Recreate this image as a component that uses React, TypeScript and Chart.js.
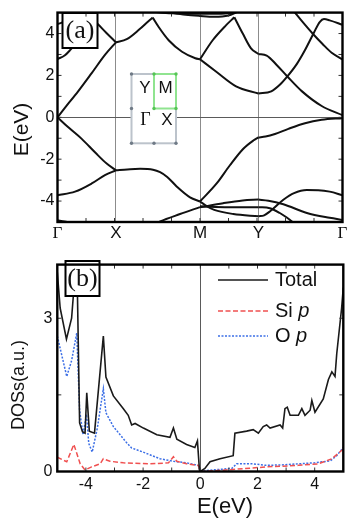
import React, { useEffect, useRef } from 'react';
import { Chart, registerables } from 'chart.js';

Chart.register(...registerables);

const SANS = '"Liberation Sans", Arial, Helvetica, sans-serif';
const SERIF = '"Liberation Serif", "Times New Roman", Times, serif';

// ---------------- (a) band structure ----------------
const kPoints = [0, 0.41, 1.0, 1.41, 2.0];
const kLabels = ['Γ', 'X', 'M', 'Y', 'Γ'];
const bandEnergyTicks = [-4, -2, 0, 2, 4];

// segments [k, E(eV)]
const gxC1 = [[0, 0], [0.053, 0.46], [0.146, 1.25], [0.24, 2.11], [0.333, 2.98], [0.41, 3.58]];
const gxV1 = [[0, 0], [0.076, -0.48], [0.17, -1.03], [0.263, -1.67], [0.345, -2.21], [0.41, -2.53]];
const gxV2 = [[0, -3.72], [0.123, -3.55], [0.24, -3.16], [0.333, -2.76], [0.41, -2.53]];
const gxC2 = [[0, 2.78], [0.05, 2.95], [0.09, 3.22], [0.15, 3.7], [0.2, 4.2], [0.25, 4.7], [0.285, 5.05]];
const gxC3 = [[0, 4.45], [0.03, 4.52], [0.1, 4.75], [0.17, 4.88], [0.22, 4.8], [0.275, 4.5], [0.34, 4.05], [0.41, 3.58]];
const gxV3 = [[0, -4.92], [0.05, -4.97], [0.12, -5.1]];

const xmC1a = [[0.41, 3.58], [0.486, 3.73], [0.575, 4.2], [0.64, 4.6], [0.668, 4.76]];
const xmC1b = [[0.668, 4.76], [0.71, 4.31], [0.78, 3.68], [0.874, 3.13], [0.967, 2.82], [1.0, 2.77]];
const xmV1 = [[0.41, -2.53], [0.49, -2.49], [0.58, -2.46], [0.67, -2.5], [0.72, -2.62], [0.77, -2.85], [0.836, -3.3], [0.93, -3.82], [1.0, -4.02]];
const xmV2 = [[0.68, -5.1], [0.72, -4.97], [0.86, -4.62], [1.0, -4.29]];
const topC1 = [[0.66, 5.05], [0.8, 4.97], [1.0, 4.95], [1.15, 4.95], [1.25, 5.02]];
const topC2 = [[0.76, 5.05], [0.9, 4.9], [1.0, 4.84], [1.1, 4.8], [1.2, 4.86], [1.26, 5.02]];

const myC1a = [[1.0, 2.77], [1.089, 3.68], [1.182, 4.39], [1.241, 4.78]];
const myC1b = [[1.241, 4.78], [1.3, 4.0], [1.358, 3.29], [1.41, 3.02]];
const myC2 = [[1.0, 2.77], [1.112, 2.19], [1.253, 1.48], [1.41, 1.14]];
const myV1 = [[1.0, -4.02], [1.117, -3.16], [1.21, -2.29], [1.304, -1.5], [1.374, -1.11], [1.41, -0.96]];
const myV2 = [[1.0, -4.02], [1.05, -4.25], [1.1, -4.42], [1.234, -4.62], [1.41, -4.73]];
const myV3 = [[1.0, -4.3], [1.163, -4.1], [1.3, -3.97], [1.41, -3.93]];
const myV4 = [[1.0, -4.25], [1.2, -4.29], [1.41, -4.29]];

const ygC1 = [[1.41, 3.02], [1.468, 2.95], [1.538, 2.5], [1.613, 1.95], [1.714, 1.25], [1.854, 0.54], [2.0, 0.1]];
const ygC2 = [[1.41, 1.14], [1.5, 1.24], [1.56, 1.55], [1.613, 1.95], [1.68, 2.55], [1.737, 3.21], [1.8, 4.05], [1.84, 4.55], [1.87, 4.69], [1.91, 4.63], [2.0, 4.42]];
const ygC3 = [[1.66, 5.05], [1.714, 4.6], [1.79, 4.0], [1.86, 3.5], [1.924, 3.08], [2.0, 2.77]];
const ygV1 = [[1.41, -0.96], [1.46, -0.92], [1.526, -0.8], [1.62, -0.55], [1.737, -0.28], [1.854, -0.12], [2.0, -0.04]];
const ygV2 = [[1.41, -4.73], [1.45, -4.68], [1.49, -4.5], [1.585, -3.94], [1.66, -3.62], [1.75, -3.47], [1.83, -3.48], [1.91, -3.55], [2.0, -3.72]];
const ygV3 = [[1.41, -3.93], [1.48, -3.98], [1.585, -4.15], [1.75, -4.57], [1.91, -4.8], [2.0, -4.9]];
const ygV4 = [[1.41, -4.29], [1.49, -4.34], [1.56, -4.57], [1.63, -4.89], [1.66, -5.05]];

const bandSegments = [
  gxC1, gxV1, gxV2, gxC2, gxC3, gxV3,
  xmC1a, xmC1b, xmV1, xmV2, topC1, topC2,
  myC1a, myC1b, myC2, myV1, myV2, myV3, myV4,
  ygC1, ygC2, ygC3, ygV1, ygV2, ygV3, ygV4,
];

// ---------------- (b) DOS ----------------
const dosEnergyTicks = [-4, -2, 0, 2, 4];
const dosValueTicks = [0, 3];
const dosMinorTicks = [0, 1.5, 3];
const dosMax = 4.05;

const totalE = [-5, -4.9, -4.68, -4.5, -4.32, -4.22, -4.12, -4.03, -3.97, -3.88, -3.7, -3.39, -3.3, -3.04, -2.69, -2.52, -2.4, -2.28, -1.99, -1.52, -1.06, -0.94, -0.82, -0.48, -0.19, -0.1, -0.03, 0, 0.16, 0.34, 0.69, 1.15, 1.21, 1.62, 1.85, 2.03, 2.2, 2.32, 2.44, 2.79, 2.88, 2.96, 3.04, 3.14, 3.43, 3.55, 3.66, 3.84, 3.9, 4.01, 4.3, 4.48, 4.6, 4.71, 4.77, 4.94, 5];
const totalDOS = [3.9, 3.2, 2.59, 3.0, 4.3, 0.95, 0.78, 0.75, 1.54, 0.79, 0.75, 2.65, 1.85, 1.48, 1.23, 1.1, 0.91, 0.94, 0.85, 0.72, 0.67, 0.85, 0.63, 0.53, 0.47, 0.6, 0.03, 0, 0.06, 0.19, 0.25, 0.31, 0.75, 0.79, 0.82, 0.75, 0.88, 0.91, 0.85, 0.91, 0.85, 1.23, 1.26, 1.1, 1.1, 1.23, 1.1, 1.2, 1.39, 1.16, 1.42, 1.8, 1.95, 1.86, 2.3, 3.19, 3.6];

const siE = [-5, -4.67, -4.42, -4.2, -4.03, -3.8, -3.5, -3.39, -3.16, -2.69, -1.75, -1.11, -0.94, -0.82, -0.48, -0.07, 0, 0.1, 1.15, 2.32, 3.43, 4.13, 4.6, 5];
const siDOS = [0.28, 0.19, 0.53, 0.15, 0.03, 0.09, 0.15, 0.25, 0.2, 0.17, 0.15, 0.17, 0.29, 0.2, 0.15, 0.12, 0, 0, 0.04, 0.09, 0.12, 0.15, 0.25, 0.44];

const oE = [-5, -4.67, -4.5, -4.32, -4.22, -4.1, -3.98, -3.9, -3.78, -3.6, -3.39, -3.3, -3.04, -2.57, -2.4, -2.0, -1.41, -0.94, -0.48, -0.07, 0, 0.2, 1.1, 1.27, 1.85, 2.3, 2.88, 3.43, 4.0, 4.55, 4.77, 5];
const oDOS = [2.65, 1.86, 2.17, 2.71, 1.2, 0.72, 1.12, 0.55, 0.38, 0.85, 1.62, 1.15, 0.88, 0.56, 0.46, 0.38, 0.25, 0.2, 0.17, 0.12, 0, 0.02, 0.06, 0.15, 0.15, 0.12, 0.13, 0.15, 0.17, 0.21, 0.31, 0.47];

const legendNames = ['Total', 'Si', 'O'];
const legendOrbitals = ['', 'p', 'p'];

function line(ctx: CanvasRenderingContext2D, x1: number, y1: number, x2: number, y2: number) {
  ctx.beginPath();
  ctx.moveTo(x1, y1);
  ctx.lineTo(x2, y2);
  ctx.stroke();
}

const bandDecor = {
  id: 'bandDecor',
  afterDraw(chart: any) {
    const { ctx, chartArea: a, scales } = chart;
    const xs = scales.x;
    const ys = scales.y;
    ctx.save();

    // Brillouin-zone inset
    const L = 131.5, R = 176, T = 74, B = 143.3, MX = 154, MY = 108.5;
    ctx.fillStyle = '#ffffff';
    ctx.fillRect(L, T, R - L, B - T);
    ctx.lineWidth = 2;
    ctx.strokeStyle = '#bcc3cb';
    ctx.strokeRect(L, T, R - L, B - T);
    ctx.strokeStyle = '#90e490';
    ctx.strokeRect(MX, T, R - MX, MY - T);
    const dot = (x: number, y: number, c: string) => {
      ctx.fillStyle = c;
      ctx.beginPath();
      ctx.arc(x, y, 1.7, 0, Math.PI * 2);
      ctx.fill();
    };
    [[L, T], [L, MY], [L, B], [MX, B], [R, B]].forEach(([x, y]) => dot(x, y, '#6f7a86'));
    [[MX, T], [R, T], [MX, MY], [R, MY]].forEach(([x, y]) => dot(x, y, '#55c455'));
    ctx.fillStyle = '#111';
    ctx.textAlign = 'center';
    ctx.textBaseline = 'middle';
    ctx.font = `17px ${SANS}`;
    ctx.fillText('Y', 145, 88.5);
    ctx.fillText('M', 165.5, 88.5);
    ctx.fillText('X', 167, 120.5);
    ctx.font = `18px ${SERIF}`;
    ctx.fillText('Γ', 145.5, 120.5);

    // (a) label box
    ctx.fillStyle = '#ffffff';
    ctx.fillRect(62.5, 13, 35, 35);
    ctx.strokeStyle = '#000';
    ctx.lineWidth = 2;
    ctx.strokeRect(62.5, 13, 35, 35);
    ctx.fillStyle = '#111';
    ctx.font = `26px ${SERIF}`;
    ctx.fillText('(a)', 80, 31);

    // inward minor ticks
    ctx.strokeStyle = '#333';
    ctx.lineWidth = 1;
    for (let i = 1; i < 10; i++) {
      const px = xs.getPixelForValue(i * 0.2);
      line(ctx, px, a.bottom, px, a.bottom - 4);
      line(ctx, px, a.top, px, a.top + 4);
    }
    for (let e = -4; e <= 4; e++) {
      const py = ys.getPixelForValue(e);
      line(ctx, a.left, py, a.left + 4, py);
      line(ctx, a.right, py, a.right - 4, py);
    }

    // frame
    ctx.strokeStyle = '#000';
    ctx.lineWidth = 2.4;
    ctx.strokeRect(a.left, a.top, a.right - a.left, a.bottom - a.top);

    // axis title
    ctx.translate(22.5, 129.5);
    ctx.rotate(-Math.PI / 2);
    ctx.fillStyle = '#111';
    ctx.font = `21px ${SANS}`;
    ctx.textAlign = 'center';
    ctx.textBaseline = 'middle';
    ctx.fillText('E(eV)', 0, 0);
    ctx.restore();
  },
};

const dosDecor = {
  id: 'dosDecor',
  afterDraw(chart: any) {
    const { ctx, chartArea: a, scales } = chart;
    const xs = scales.x;
    const ys = scales.y;
    ctx.save();

    // inward ticks
    ctx.strokeStyle = '#333';
    ctx.lineWidth = 1;
    for (let e = -4; e <= 4; e++) {
      const px = xs.getPixelForValue(e);
      line(ctx, px, a.bottom, px, a.bottom - 4);
      line(ctx, px, a.top, px, a.top + 4);
    }
    dosMinorTicks.forEach((v) => {
      const py = ys.getPixelForValue(v);
      line(ctx, a.left, py, a.left + 4, py);
      line(ctx, a.right, py, a.right - 4, py);
    });

    // (b) label box
    ctx.fillStyle = '#ffffff';
    ctx.fillRect(65.5, 11, 34, 35);
    ctx.strokeStyle = '#000';
    ctx.lineWidth = 2;
    ctx.strokeRect(65.5, 11, 34, 35);
    ctx.fillStyle = '#111';
    ctx.textAlign = 'center';
    ctx.textBaseline = 'middle';
    ctx.font = `26px ${SERIF}`;
    ctx.fillText('(b)', 82.5, 29);

    // legend
    const rows = [30, 61, 86];
    chart.data.datasets.forEach((ds: any, i: number) => {
      const y = rows[i];
      ctx.strokeStyle = ds.borderColor;
      ctx.lineWidth = ds.borderWidth;
      ctx.setLineDash(ds.borderDash || []);
      line(ctx, 218, y, 268, y);
      ctx.setLineDash([]);
      ctx.fillStyle = '#111';
      ctx.textAlign = 'left';
      ctx.textBaseline = 'middle';
      ctx.font = `20px ${SANS}`;
      const name = legendNames[i];
      ctx.fillText(name, 275, y);
      if (legendOrbitals[i]) {
        const w = ctx.measureText(name + ' ').width;
        ctx.font = `italic 20px ${SANS}`;
        ctx.fillText(legendOrbitals[i], 275 + w, y);
      }
    });

    // frame
    ctx.strokeStyle = '#000';
    ctx.lineWidth = 2.4;
    ctx.strokeRect(a.left, a.top, a.right - a.left, a.bottom - a.top);

    // axis titles
    ctx.fillStyle = '#111';
    ctx.textAlign = 'center';
    ctx.textBaseline = 'middle';
    ctx.font = `22px ${SANS}`;
    ctx.fillText('E(eV)', 225, 257);
    ctx.translate(19.5, 135);
    ctx.rotate(-Math.PI / 2);
    ctx.font = `18px ${SANS}`;
    ctx.fillText('DOSs(a.u.)', 0, 0);
    ctx.restore();
  },
};

function BandChart() {
  const ref = useRef<HTMLCanvasElement>(null);
  useEffect(() => {
    const chart = new Chart(ref.current as HTMLCanvasElement, {
      type: 'scatter',
      data: {
        datasets: bandSegments.map((seg) => ({
          data: seg.map(([k, e]) => ({ x: k, y: e })),
          showLine: true,
          borderColor: '#111',
          borderWidth: 2,
          pointRadius: 0,
          pointHitRadius: 0,
          cubicInterpolationMode: 'monotone',
          fill: false,
        })),
      } as any,
      options: {
        animation: false,
        responsive: false,
        maintainAspectRatio: false,
        events: [],
        layout: { padding: { top: 10.5, right: 11.5, left: 0, bottom: 0 } },
        plugins: { legend: { display: false }, tooltip: { enabled: false } },
        scales: {
          x: {
            type: 'linear',
            min: 0,
            max: 2,
            afterBuildTicks: (s: any) => {
              s.ticks = kPoints.map((v) => ({ value: v }));
            },
            afterFit: (s: any) => {
              s.height = 28;
            },
            border: { display: false },
            grid: {
              drawTicks: false,
              lineWidth: 1,
              color: (c: any) => (c.index > 0 && c.index < kPoints.length - 1 ? '#8c8c8c' : 'rgba(0,0,0,0)'),
            },
            ticks: {
              autoSkip: false,
              maxRotation: 0,
              padding: 1,
              color: '#111',
              callback: (_v: any, i: number) => kLabels[i],
              font: (c: any) => ({ family: kLabels[c.index] === 'Γ' ? SERIF : SANS, size: 17 }),
            },
          },
          y: {
            type: 'linear',
            min: -5,
            max: 5,
            afterBuildTicks: (s: any) => {
              s.ticks = bandEnergyTicks.map((v) => ({ value: v }));
            },
            afterFit: (s: any) => {
              s.width = 57.5;
            },
            border: { display: false },
            grid: {
              drawTicks: false,
              lineWidth: 1,
              color: (c: any) => (c.tick && c.tick.value === 0 ? '#5a5a5a' : 'rgba(0,0,0,0)'),
            },
            ticks: { padding: 3, color: '#111', font: { family: SANS, size: 16 } },
          },
        },
      } as any,
      plugins: [bandDecor],
    });
    return () => chart.destroy();
  }, []);
  return (
    <canvas
      ref={ref}
      width={354}
      height={250}
      style={{ position: 'absolute', left: 0, top: 0, width: 354, height: 250 }}
    />
  );
}

function DosChart() {
  const ref = useRef<HTMLCanvasElement>(null);
  useEffect(() => {
    const chart = new Chart(ref.current as HTMLCanvasElement, {
      type: 'scatter',
      data: {
        datasets: [
          {
            label: 'Total',
            data: totalE.map((e, i) => ({ x: e, y: totalDOS[i] })),
            showLine: true,
            borderColor: '#1a1a1a',
            borderWidth: 1.6,
            pointRadius: 0,
            tension: 0,
          },
          {
            label: 'Si p',
            data: siE.map((e, i) => ({ x: e, y: siDOS[i] })),
            showLine: true,
            borderColor: '#f05050',
            borderWidth: 1.5,
            borderDash: [5, 2.5],
            pointRadius: 0,
            tension: 0,
          },
          {
            label: 'O p',
            data: oE.map((e, i) => ({ x: e, y: oDOS[i] })),
            showLine: true,
            borderColor: '#3c6fe6',
            borderWidth: 1.5,
            borderDash: [2, 1.5],
            pointRadius: 0,
            tension: 0,
          },
        ],
      } as any,
      options: {
        animation: false,
        responsive: false,
        maintainAspectRatio: false,
        events: [],
        layout: { padding: { top: 7, right: 10.7, left: 0, bottom: 0 } },
        plugins: { legend: { display: false }, tooltip: { enabled: false } },
        scales: {
          x: {
            type: 'linear',
            min: -5,
            max: 5,
            afterBuildTicks: (s: any) => {
              s.ticks = dosEnergyTicks.map((v) => ({ value: v }));
            },
            afterFit: (s: any) => {
              s.height = 48.5;
            },
            border: { display: false },
            grid: {
              drawTicks: false,
              lineWidth: 1,
              color: (c: any) => (c.tick && c.tick.value === 0 ? '#5a5a5a' : 'rgba(0,0,0,0)'),
            },
            ticks: { autoSkip: false, maxRotation: 0, padding: 3, color: '#111', font: { family: SANS, size: 16 } },
          },
          y: {
            type: 'linear',
            min: 0,
            max: dosMax,
            afterBuildTicks: (s: any) => {
              s.ticks = dosValueTicks.map((v) => ({ value: v }));
            },
            afterFit: (s: any) => {
              s.width = 57.3;
            },
            border: { display: false },
            grid: { drawTicks: false, color: 'rgba(0,0,0,0)' },
            ticks: { padding: 5, color: '#111', font: { family: SANS, size: 16 } },
          },
        },
      } as any,
      plugins: [dosDecor],
    });
    return () => chart.destroy();
  }, []);
  return (
    <canvas
      ref={ref}
      width={354}
      height={270}
      style={{ position: 'absolute', left: 0, top: 250, width: 354, height: 270 }}
    />
  );
}

export default function App() {
  return (
    <div style={{ position: 'fixed', left: 0, top: 0, width: 354, height: 520, background: '#fff', overflow: 'hidden' }}>
      <BandChart />
      <DosChart />
    </div>
  );
}
